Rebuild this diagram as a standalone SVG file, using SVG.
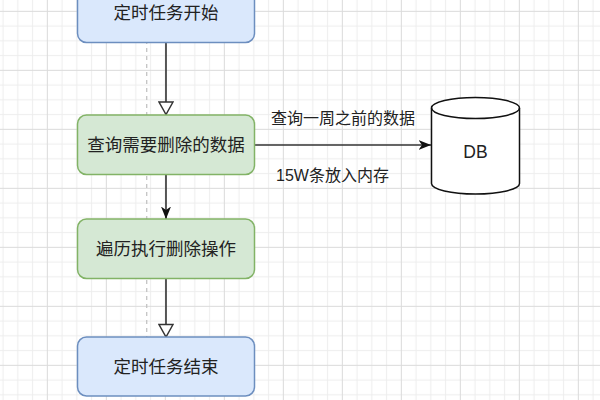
<svg xmlns="http://www.w3.org/2000/svg" width="600" height="400" viewBox="0 0 600 400">
  <defs>
    <pattern id="grid" patternUnits="userSpaceOnUse" x="39.925" y="3.925" width="59" height="59">
      <path d="M22.125 0V59M36.875 0V59M51.625 0V59M0 22.125H59M0 36.875H59M0 51.625H59" stroke="#ededed" stroke-width="1" fill="none"/>
      <path d="M7.375 0V59M0 7.375H59" stroke="#dadada" stroke-width="1" fill="none"/>
    </pattern>
    <marker id="open" viewBox="0 0 16 16" refX="14" refY="8" markerWidth="16" markerHeight="16" markerUnits="userSpaceOnUse" orient="auto">
      <path d="M1.5 1 L14 8 L1.5 15 Z" fill="#ffffff" stroke="#333333" stroke-width="1.5" stroke-linejoin="miter"/>
    </marker>
    <marker id="filled" viewBox="0 0 13 11" refX="12.5" refY="5.5" markerWidth="13" markerHeight="11" markerUnits="userSpaceOnUse" orient="auto">
      <path d="M0 0.5 L12.5 5.5 L0 10.5 L3.5 5.5 Z" fill="#111111"/>
    </marker>
    <style>
      .node-blue { fill: #dae8fc; stroke: #6c8ebf; stroke-width: 1.5; }
      .node-green { fill: #d5e8d4; stroke: #82b366; stroke-width: 1.5; }
      .label { font-family: "Liberation Sans", "Noto Sans CJK SC", sans-serif; font-size: 17.5px; fill: #222222; text-anchor: middle; dominant-baseline: central; }
      .edge-label { font-family: "Liberation Sans", "Noto Sans CJK SC", sans-serif; font-size: 16px; fill: #222222; text-anchor: middle; dominant-baseline: central; }
      .edge { fill: none; stroke: #333333; stroke-width: 1.6; }
    </style>
  </defs>

  <rect width="600" height="400" fill="#ffffff"/>
  <rect width="600" height="400" fill="url(#grid)"/>
  <line x1="146.7" y1="0" x2="146.7" y2="400" stroke="#c4c4c4" stroke-width="1.3" stroke-dasharray="4 4"/>

  <g id="connectors">
    <path class="edge" d="M166 42.5 L166 114.5" marker-end="url(#open)"/>
    <path class="edge" d="M166 174.5 L166 219" marker-end="url(#filled)"/>
    <path class="edge" d="M166 278.5 L166 337" marker-end="url(#open)"/>
    <path class="edge" d="M254.5 145 L431 145" marker-end="url(#filled)"/>
    <text class="edge-label" x="343" y="118">查询一周之前的数据</text>
    <text class="edge-label" x="332.5" y="175">15W条放入内存</text>
  </g>

  <g id="node-start">
    <rect class="node-blue" x="77.5" y="-16.5" width="177" height="59" rx="9" ry="9"/>
    <text class="label" x="166" y="13">定时任务开始</text>
  </g>

  <g id="node-query">
    <rect class="node-green" x="77.5" y="115" width="177" height="59.5" rx="9" ry="9"/>
    <text class="label" x="166" y="144.75">查询需要删除的数据</text>
  </g>

  <g id="node-iterate">
    <rect class="node-green" x="77.5" y="219" width="177" height="59.5" rx="9" ry="9"/>
    <text class="label" x="166" y="248.75">遍历执行删除操作</text>
  </g>

  <g id="node-end">
    <rect class="node-blue" x="77.5" y="337" width="177" height="59" rx="9" ry="9"/>
    <text class="label" x="166" y="366.5">定时任务结束</text>
  </g>

  <g id="node-db">
    <path d="M431.5 108 A44 10.5 0 0 1 519.5 108 V183.5 A44 10.5 0 0 1 431.5 183.5 Z" fill="#ffffff" stroke="#111111" stroke-width="1.5"/>
    <path d="M431.5 108 A44 10.5 0 0 0 519.5 108" fill="none" stroke="#111111" stroke-width="1.5"/>
    <text class="label" x="475.5" y="152">DB</text>
  </g>
</svg>
